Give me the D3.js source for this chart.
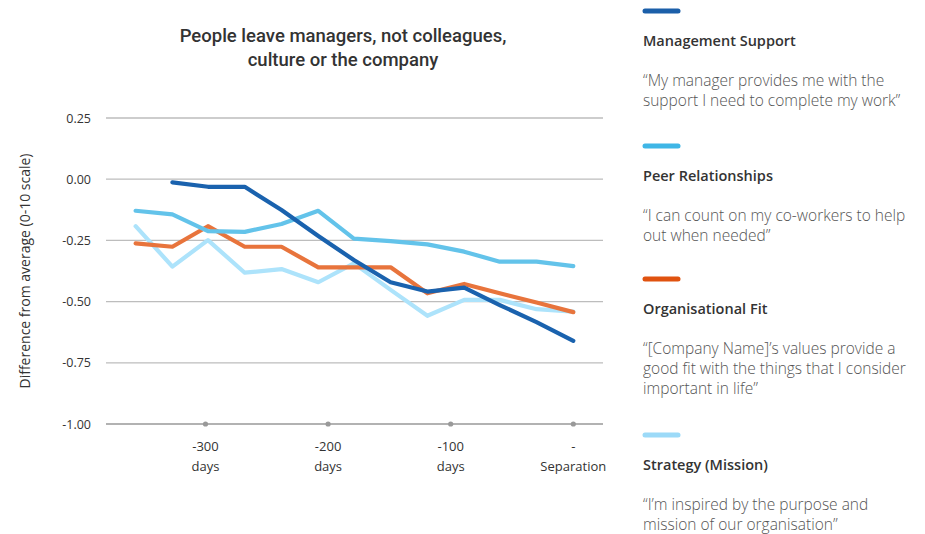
<!DOCTYPE html>
<html><head><meta charset="utf-8">
<script src="https://cdn.jsdelivr.net/npm/d3@7"></script>
<style>
body{margin:0;background:#fff;}
svg{display:block;}
</style></head>
<body>
<svg id="chart" width="925" height="534"></svg>
<script>
// Data
const days = [-357,-327,-298,-268,-238,-208,-179,-149,-119,-89,-60,-30,0];
const management = [null,-0.013,-0.031,-0.031,-0.126,-0.232,-0.330,-0.421,-0.459,-0.443,-0.514,-0.584,-0.660];
const peers = [-0.129,-0.144,-0.212,-0.215,-0.183,-0.129,-0.243,-0.253,-0.266,-0.296,-0.337,-0.337,-0.355];
const orgFit = [-0.262,-0.276,-0.192,-0.276,-0.276,-0.360,-0.360,-0.360,-0.466,-0.428,-0.466,-0.504,-0.543];
const strategy = [-0.192,-0.357,-0.249,-0.382,-0.367,-0.421,-0.344,-0.452,-0.558,-0.493,-0.493,-0.531,-0.541];
const yTicks = [0.25,0,-0.25,-0.5,-0.75,-1.0];
const yTickLabels = ["0.25","0.00","-0.25","-0.50","-0.75","-1.00"];
const xTicks = [-300,-200,-100,0];
const xTickLabels = [["-300","days"],["-200","days"],["-100","days"],["-","Separation"]];
const seriesNames = ["Management Support","Peer Relationships","Organisational Fit","Strategy (Mission)"];
const seriesQuotes = [
  ["\u201CMy manager provides me with the","support I need to complete my work\u201D"],
  ["\u201CI can count on my co-workers to help","out when needed\u201D"],
  ["\u201C[Company Name]\u2019s values provide a","good fit with the things that I consider","important in life\u201D"],
  ["\u201CI\u2019m inspired by the purpose and","mission of our organisation\u201D"]
];
const title = ["People leave managers, not colleagues,","culture or the company"];
const yTitle = "Difference from average (0-10 scale)";

const lineColors = ["#1a62ae","#63c3ea","#e8743c","#ade3fb"];
const swatchColors = ["#1b5fa9","#3fb6e6","#e0520f","#9cdaf8"];
const allSeries = [management, peers, orgFit, strategy];

const svg = d3.select("#chart");
const x = d3.scaleLinear().domain([-300,0]).range([205.5,573.3]);
const y = d3.scaleLinear().domain([0.25,-1.0]).range([118,424]);
const gridX0 = 106, gridX1 = 603;

// title
svg.append("text").attr("x",343).attr("y",0)
  .attr("text-anchor","middle")
  .style("font-family","Roboto, sans-serif").style("font-size","18.5px").style("font-weight","500")
  .style("fill","#333")
  .selectAll("tspan").data(title).join("tspan")
  .attr("x",343).attr("y",(d,i)=>42+i*24).text(d=>d);

// gridlines
svg.append("g").selectAll("line").data(yTicks).join("line")
  .attr("x1",gridX0).attr("x2",gridX1)
  .attr("y1",d=>y(d)).attr("y2",d=>y(d))
  .attr("stroke",d=>d===-1.0?"#999":"#bdbdbd").attr("stroke-width",1.3);

// y axis labels
const yAxis = d3.axisLeft(y).tickValues(yTicks).tickFormat((d,i)=>yTickLabels[i]).tickSize(0).tickPadding(0);
const ya = svg.append("g").attr("transform","translate(91,0)").call(yAxis);
ya.select(".domain").remove();
ya.selectAll("text").style("font-family","'Open Sans', sans-serif").style("font-size","12.5px").style("fill","#333");

// y title
svg.append("text").attr("transform","translate(30,271) rotate(-90)")
  .attr("text-anchor","middle")
  .style("font-family","'Open Sans', sans-serif").style("font-size","14px").style("fill","#333")
  .text(yTitle);

// x axis dots and labels
const xg = svg.append("g");
xg.selectAll("circle").data(xTicks).join("circle")
  .attr("cx",d=>x(d)).attr("cy",y(-1.0)).attr("r",2.6).attr("fill","#999");
xTicks.forEach((t,i)=>{
  const tx = svg.append("text").attr("text-anchor","middle")
    .style("font-family","'Open Sans', sans-serif").style("font-size","13px").style("fill","#333");
  xTickLabels[i].forEach((s,j)=>{
    tx.append("tspan").attr("x",x(t)).attr("y",451+j*20).text(s);
  });
});

// lines
const line = d3.line()
  .defined(d=>d[1]!==null)
  .x(d=>x(d[0])).y(d=>y(d[1]));
[3,2,1,0].forEach(k=>{
  const pts = days.map((d,i)=>[d, allSeries[k][i]]);
  svg.append("path").datum(pts).attr("d",line)
    .attr("fill","none").attr("stroke",lineColors[k]).attr("stroke-width",4.2)
    .attr("stroke-linejoin","round").attr("stroke-linecap","round");
});

// legend
const legTop = [11,146,279,435];
seriesNames.forEach((name,k)=>{
  const g = svg.append("g");
  const yy = legTop[k];
  g.append("line").attr("x1",645).attr("x2",678).attr("y1",yy).attr("y2",yy)
    .attr("stroke",swatchColors[k]).attr("stroke-width",5).attr("stroke-linecap","round");
  g.append("text").attr("x",643).attr("y",yy+35)
    .style("font-family","'Open Sans', sans-serif").style("font-size","14.5px").style("font-weight","600")
    .style("fill","#333").text(name);
  const q = g.append("text")
    .style("font-family","'Open Sans', sans-serif").style("font-size","15.5px").style("font-weight","300")
    .style("fill","#555");
  seriesQuotes[k].forEach((s,j)=>{
    q.append("tspan").attr("x",643).attr("y",yy+75+j*20).text(s);
  });
});
</script>
</body></html>
